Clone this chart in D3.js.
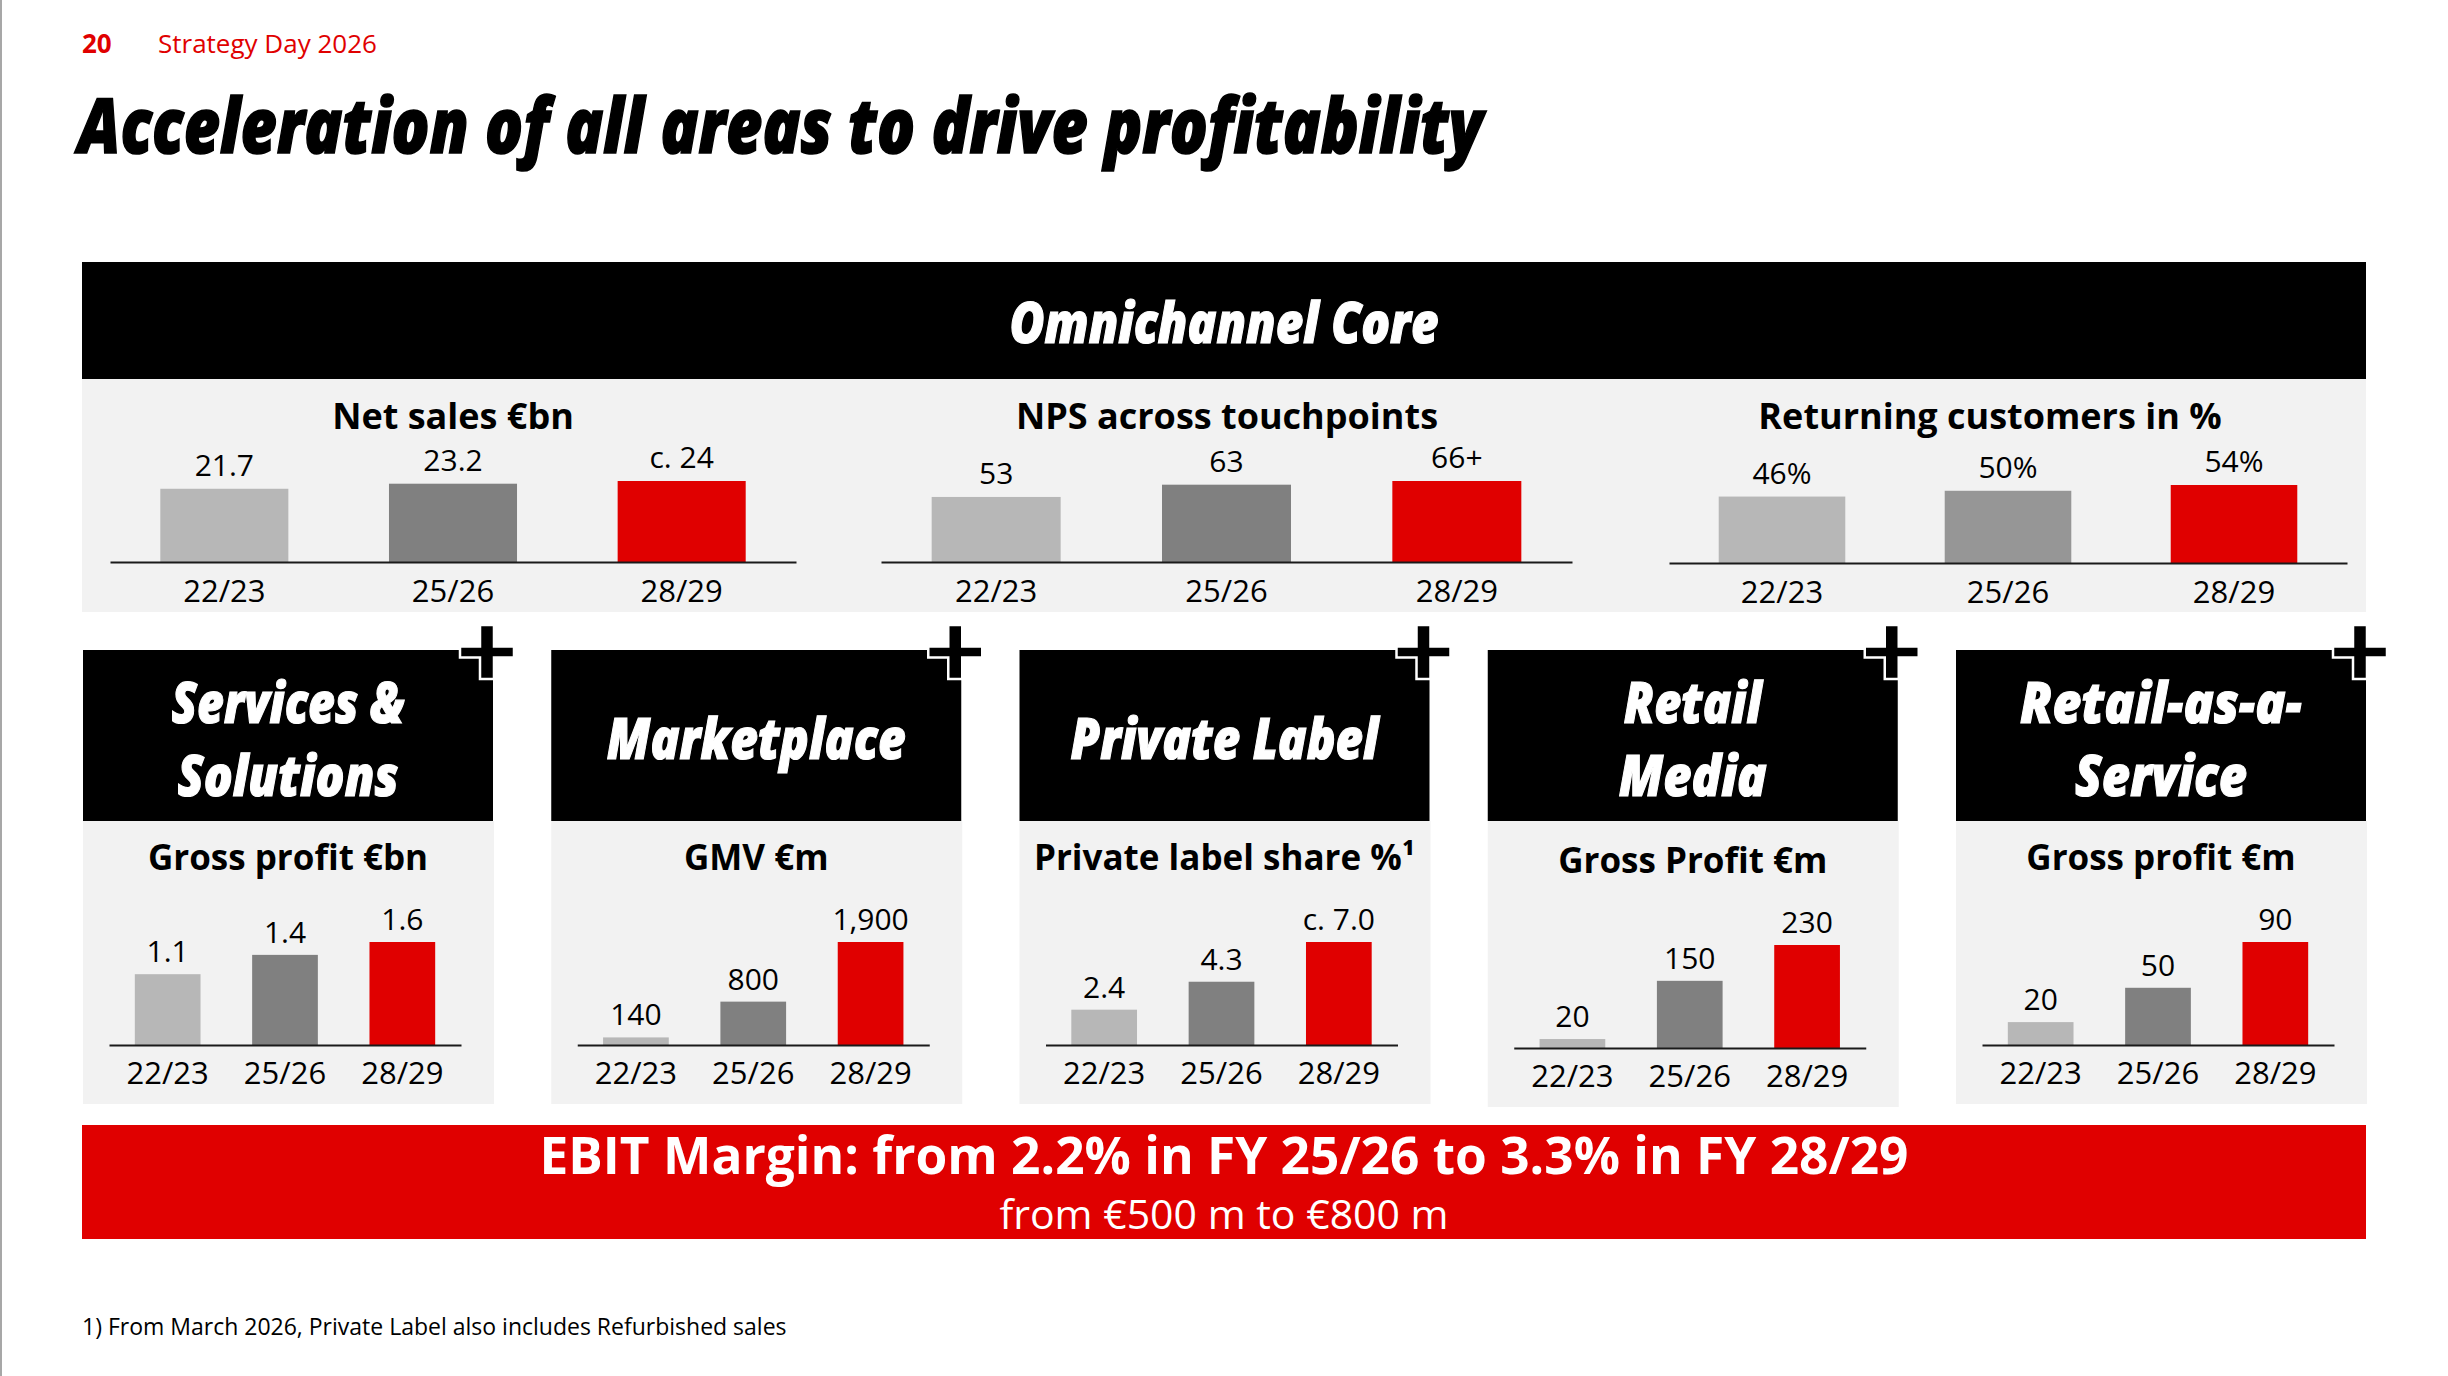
<!DOCTYPE html>
<html><head><meta charset="utf-8">
<script src="https://cdn.jsdelivr.net/npm/d3@7"></script>
<style>html,body{margin:0;padding:0;background:#fff;}svg{display:block;}</style>
</head><body>
<svg id="c" width="2448" height="1376"></svg>
<script>
// ---------- data ----------
const periods = ["22/23", "25/26", "28/29"];

const coreTitles = ["Net sales €bn", "NPS across touchpoints", "Returning customers in %"];
const netSales = [21.7, 23.2, 24];
const netSalesLabels = ["21.7", "23.2", "c. 24"];
const nps = [53, 63, 66];
const npsLabels = ["53", "63", "66+"];
const returning = [46, 50, 54];
const returningLabels = ["46%", "50%", "54%"];

const areaNames = [["Services &", "Solutions"], ["Marketplace"], ["Private Label"], ["Retail", "Media"], ["Retail-as-a-", "Service"]];
const areaTitles = ["Gross profit €bn", "GMV €m", "Private label share %¹", "Gross Profit €m", "Gross profit €m"];
const servicesGP = [1.1, 1.4, 1.6];
const servicesLabels = ["1.1", "1.4", "1.6"];
const marketplaceGMV = [140, 800, 1900];
const marketplaceLabels = ["140", "800", "1,900"];
const privateLabelShare = [2.4, 4.3, 7.0];
const privateLabelLabels = ["2.4", "4.3", "c. 7.0"];
const retailMediaGP = [20, 150, 230];
const retailMediaLabels = ["20", "150", "230"];
const raasGP = [20, 50, 90];
const raasLabels = ["20", "50", "90"];

const pageNumber = "20";
const eventName = "Strategy Day 2026";
const pageTitle = "Acceleration of all areas to drive profitability";
const coreHeader = "Omnichannel Core";
const ebitLine1 = "EBIT Margin: from 2.2% in FY 25/26 to 3.3% in FY 28/29";
const ebitLine2 = "from €500 m to €800 m";
const footnote = "1) From March 2026, Private Label also includes Refurbished sales";

// ---------- styles / layout ----------
const F = "'Open Sans','Noto Sans',sans-serif";
const RED = "#e00000", LIGHT = "#b7b7b7", DARK = "#808080", PANEL = "#f2f2f2";
const LEFT = 82, RIGHT = 2366, MID = (LEFT + RIGHT) / 2;

const svg = d3.select("#c");

// left border
svg.append("line").attr("x1", 1).attr("x2", 1).attr("y1", 0).attr("y2", 1376)
  .attr("stroke", "#8a8a8a").attr("stroke-width", 1.5);

// header texts
svg.append("text").attr("x", 82).attr("y", 53).attr("font-family", F).attr("font-weight", 700)
  .attr("font-size", 26).attr("fill", RED).text(pageNumber);
svg.append("text").attr("x", 158).attr("y", 53).attr("font-family", F).attr("font-weight", 400)
  .attr("font-size", 26).attr("fill", RED).text(eventName);
svg.append("text").attr("x", 78).attr("y", 153).attr("font-family", F).attr("font-weight", 800)
  .attr("font-style", "italic").attr("font-size", 77).attr("fill", "#000")
  .attr("stroke", "#000").attr("stroke-width", 1.6)
  .attr("textLength", 1405).attr("lengthAdjust", "spacingAndGlyphs").text(pageTitle);

// Omnichannel core block
svg.append("rect").attr("x", LEFT).attr("y", 262).attr("width", RIGHT - LEFT).attr("height", 117).attr("fill", "#000");
svg.append("rect").attr("x", LEFT).attr("y", 379).attr("width", RIGHT - LEFT).attr("height", 233).attr("fill", PANEL);
svg.append("text").attr("x", MID).attr("y", 343).attr("text-anchor", "middle").attr("font-family", F)
  .attr("font-weight", 800).attr("font-style", "italic").attr("font-size", 56).attr("fill", "#fff")
  .attr("stroke", "#fff").attr("stroke-width", 1.2)
  .attr("textLength", 429).attr("lengthAdjust", "spacingAndGlyphs").text(coreHeader);

function drawBars(g, values, labels, opt) {
  const x = d3.scaleBand().domain(periods).range([opt.x0, opt.x0 + opt.w])
    .paddingInner(0.44).paddingOuter(0.22);
  const y = d3.scaleLinear().domain([0, d3.max(values)]).range([opt.base, opt.base - opt.maxH]);
  const colors = opt.colors || [LIGHT, DARK, RED];
  const data = periods.map((p, i) => ({ p, v: values[i], l: labels[i], c: colors[i] }));
  g.selectAll("rect.bar").data(data).join("rect").attr("class", "bar")
    .attr("x", d => x(d.p)).attr("y", d => y(d.v))
    .attr("width", x.bandwidth()).attr("height", d => opt.base - y(d.v)).attr("fill", d => d.c);
  g.selectAll("text.val").data(data).join("text").attr("class", "val")
    .attr("x", d => x(d.p) + x.bandwidth() / 2).attr("y", d => y(d.v) - opt.gap)
    .attr("text-anchor", "middle").attr("font-family", F).attr("font-size", 30).attr("fill", "#000")
    .text(d => d.l);
  const ax = g.append("g").attr("transform", `translate(0,${opt.base})`)
    .call(d3.axisBottom(x).tickSize(0).tickSizeOuter(0).tickPadding(opt.pad));
  ax.select(".domain").attr("stroke", "#1a1a1a").attr("stroke-width", 2.2);
  ax.selectAll(".tick text").attr("font-family", F).attr("font-size", 31).attr("fill", "#000");
  g.append("text").attr("x", opt.tx).attr("y", opt.ty).attr("text-anchor", "middle")
    .attr("font-family", F).attr("font-weight", 700).attr("font-size", opt.tsize).attr("fill", "#000")
    .text(opt.title);
}

const coreValues = [netSales, nps, returning];
const coreLabels = [netSalesLabels, npsLabels, returningLabels];
const coreX0 = [110, 881, 1669];
const coreW = [686, 691, 678];
const coreTitleX = [453, 1227, 1990];
coreValues.forEach((vals, i) => {
  drawBars(svg.append("g"), vals, coreLabels[i], {
    x0: coreX0[i], w: coreW[i], base: 562 + (i === 2 ? 1 : 0), maxH: i === 2 ? 78 : 81, gap: 13, pad: 18,
    tx: coreTitleX[i], ty: 429, tsize: 36, title: coreTitles[i],
    colors: i === 2 ? [LIGHT, "#969696", RED] : null
  });
});

// five areas
const areaValues = [servicesGP, marketplaceGMV, privateLabelShare, retailMediaGP, raasGP];
const areaLabels = [servicesLabels, marketplaceLabels, privateLabelLabels, retailMediaLabels, raasLabels];
const nameWidths = [[233, 221], [299], [308], [138, 148], [282, 172]];

areaValues.forEach((vals, i) => {
  const hx = 83 + i * 468.25, hy = 650, hw = 410;
  const dy = i === 3 ? 3 : 0;
  const g = svg.append("g");
  g.append("rect").attr("x", hx).attr("y", hy + 171).attr("width", hw + 1).attr("height", 283 + dy).attr("fill", PANEL);
  g.append("rect").attr("x", hx).attr("y", hy).attr("width", hw).attr("height", 171).attr("fill", "#000");
  const lines = areaNames[i];
  lines.forEach((t, k) => {
    const yy = lines.length === 1 ? hy + 109 : hy + 73 + k * 73;
    g.append("text").attr("x", hx + hw / 2).attr("y", yy).attr("text-anchor", "middle")
      .attr("font-family", F).attr("font-weight", 800).attr("font-style", "italic")
      .attr("font-size", 57).attr("fill", "#fff").attr("stroke", "#fff").attr("stroke-width", 1.2)
      .attr("textLength", nameWidths[i][k]).attr("lengthAdjust", "spacingAndGlyphs").text(t);
  });
  // plus sign
  const cx = hx + 404, cy = hy + 2, a = 27, tv = 7, th = 5.5;
  const p = `M${cx - tv},${cy - a}H${cx + tv}V${cy - th}H${cx + a}V${cy + th}H${cx + tv}V${cy + a}H${cx - tv}V${cy + th}H${cx - a}V${cy - th}H${cx - tv}Z`;
  g.append("path").attr("d", p).attr("fill", "#000").attr("stroke", "#fff").attr("stroke-width", 2.5);

  drawBars(g, vals, areaLabels[i], {
    x0: hx + 26, w: 352, base: 1045 + dy, maxH: 103, gap: 12, pad: 17,
    tx: hx + hw / 2, ty: 870 + dy, tsize: 35, title: areaTitles[i]
  });
});

// EBIT banner
svg.append("rect").attr("x", LEFT).attr("y", 1125).attr("width", RIGHT - LEFT).attr("height", 114).attr("fill", RED);
svg.append("text").attr("x", MID).attr("y", 1174).attr("text-anchor", "middle").attr("font-family", F)
  .attr("font-weight", 700).attr("font-size", 51.4).attr("fill", "#fff").text(ebitLine1);
svg.append("text").attr("x", MID).attr("y", 1229).attr("text-anchor", "middle").attr("font-family", F)
  .attr("font-weight", 400).attr("font-size", 41).attr("fill", "#fff").text(ebitLine2);

// footnote
svg.append("text").attr("x", 82).attr("y", 1335).attr("font-family", F).attr("font-size", 23)
  .attr("fill", "#000").text(footnote);
</script>
</body></html>
